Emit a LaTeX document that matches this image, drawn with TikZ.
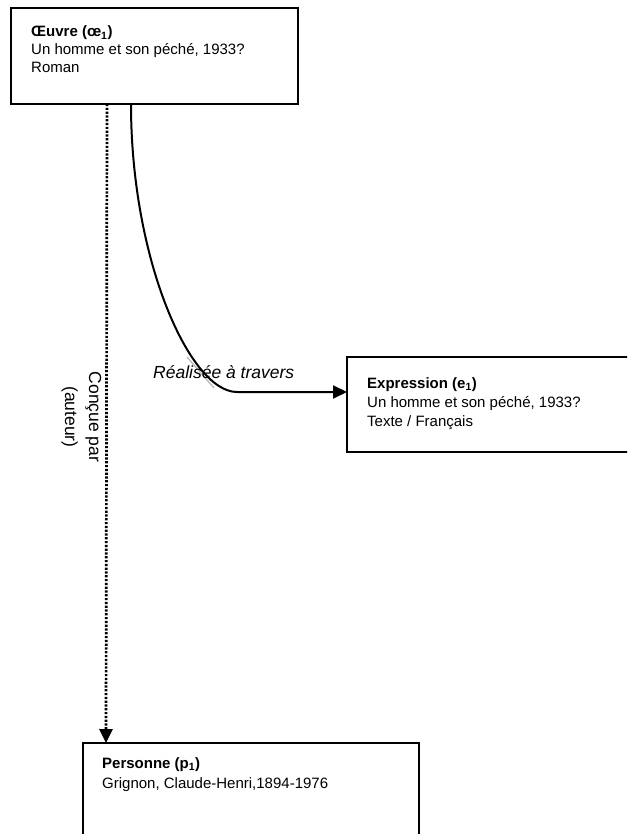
\documentclass[tikz,border=0pt]{standalone}
\usepackage{fontspec}
\setmainfont{Liberation Sans}
\usetikzlibrary{arrows.meta,calc}
\begin{document}
\begin{tikzpicture}[x=1pt,y=-1pt,
  box/.style={draw,line width=2pt,rectangle,inner sep=0pt,outer sep=0pt,anchor=north west},
  txt/.style={anchor=base west,inner sep=0pt,font=\fontsize{15}{18}\selectfont},
  lbl/.style={inner sep=0pt,font=\fontsize{17.5}{21}\selectfont},
  tip/.style={-{Triangle[length=14pt,width=13pt]}}]
\useasboundingbox (0,0) rectangle (627,834);
\clip (0,0) rectangle (627,834);
% boxes
\node[box,minimum width=287pt,minimum height=96pt] (oe) at (11,8) {};
\node[box,minimum width=300pt,minimum height=95pt] (ex) at (347,357) {};
\node[box,minimum width=336pt,minimum height=130pt] (pe) at (83,743) {};
% box texts
\node[txt] (oe1) at (31,37) {\textbf{Œuvre (œ\textsubscript{1})}};
\node[txt] (oe2) at (31,55) {Un homme et son péché, 1933?};
\node[txt] (oe3) at (31,73) {Roman};
\node[txt] (ex1) at (367,388) {\textbf{Expression (e\textsubscript{1})}};
\node[txt] (ex2) at (367,407) {Un homme et son péché, 1933?};
\node[txt] (ex3) at (367,426) {Texte / Français};
\node[txt] (pe1) at (102,768) {\textbf{Personne (p\textsubscript{1})}};
\node[txt] (pe2) at (102,788) {Grignon, Claude-Henri,1894-1976};
% connectors
\coordinate (bend) at (237,392);
\draw[line width=2pt,tip] ([xshift=120pt]oe.south west) .. controls +(0,156) and +(-47,0) .. (bend) -- ([yshift=-35pt]ex.north west);
\draw[gray!55,line width=1.3pt] (187,357) -- (214,388);
\draw[line width=2.7pt,dash pattern=on 2.2pt off 1.6pt,tip] ([xshift=96pt]oe.south west) -- ([xshift=23pt]pe.north west);
% labels
\node[lbl,anchor=base west] (real) at (153,378) {\itshape Réalisée à travers};
\node[lbl,anchor=base,rotate=-90] (con1) at (89,417) {Conçue par};
\node[lbl,anchor=base,rotate=-90] (con2) at (65,417) {(auteur)};
\end{tikzpicture}
\end{document}
